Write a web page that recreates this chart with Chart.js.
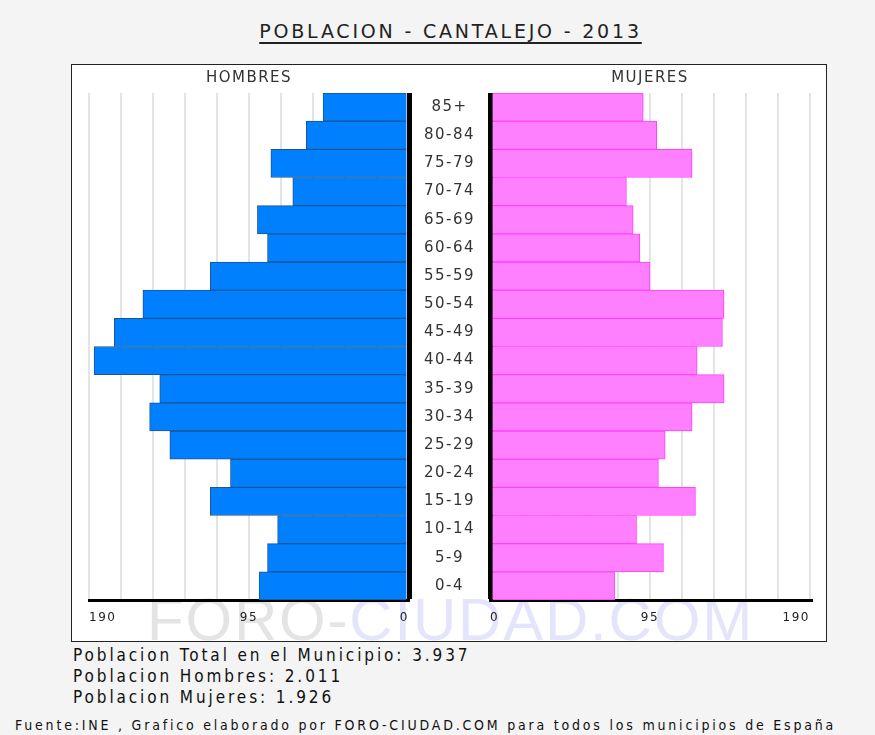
<!DOCTYPE html>
<html>
<head>
<meta charset="utf-8">
<script src="https://cdn.jsdelivr.net/npm/chart.js@4"></script>
<style>
  body { margin:0; background:#f4f4f4; width:875px; height:735px; position:relative; overflow:hidden; font-family:"DejaVu Sans", sans-serif; }
  .titulo { position:absolute; left:13px; width:875px; top:19px; text-align:center; font-size:19px; line-height:24px; letter-spacing:2.8px; color:#222; text-decoration:underline; text-decoration-thickness:2px; text-underline-offset:4px; }
  .caja { position:absolute; left:71px; top:64px; width:754px; height:576px; background:#fff; border:1px solid #222; }
  .marca { position:absolute; left:147px; top:590px; font-family:"Liberation Sans", sans-serif; font-size:60px; line-height:60px; letter-spacing:1.8px; white-space:nowrap; }
  .gris { color:#e4e4e4; }
  .lila { color:#e4e4fc; }
  #hombres { position:absolute; left:71px; top:64px; }
  #mujeres { position:absolute; left:409px; top:64px; }
  .datos { position:absolute; left:73px; top:645px; font-family:"DejaVu Sans Condensed", "DejaVu Sans", sans-serif; font-stretch:condensed; font-size:17px; line-height:21px; letter-spacing:2.9px; color:#111; white-space:nowrap; }
  .fuente { position:absolute; left:15px; top:716px; font-family:"DejaVu Sans Condensed", "DejaVu Sans", sans-serif; font-stretch:condensed; font-size:14px; line-height:18px; letter-spacing:2.8px; color:#111; white-space:nowrap; }
</style>
</head>
<body>
<div class="titulo">POBLACION - CANTALEJO - 2013</div>
<div class="caja"></div>
<div class="marca"><span class="gris">FORO-</span><span class="lila">CIUDAD.COM</span></div>
<canvas id="hombres" width="349" height="578"></canvas>
<canvas id="mujeres" width="418" height="578"></canvas>
<div class="datos">Poblacion Total en el Municipio: 3.937<br>Poblacion Hombres: 2.011<br>Poblacion Mujeres: 1.926</div>
<div class="fuente">Fuente:INE , Grafico elaborado por FORO-CIUDAD.COM para todos los municipios de España</div>

<script>
// datos (de 0-4 hasta 85+)
const edades = ['0-4', '5-9', '10-14', '15-19', '20-24', '25-29', '30-34', '35-39', '40-44',
  '45-49', '50-54', '55-59', '60-64', '65-69', '70-74', '75-79', '80-84', '85+']
const hombres = [89, 84, 78, 118, 106, 142, 154, 148, 187, 175, 158, 118, 84, 90, 69, 82, 61, 51]
const mujeres = [74, 103, 87, 122, 100, 104, 120, 139, 123, 138, 139, 95, 89, 85, 81, 120, 99, 91]
const maximo = 190
const paso = 19
const marcas = [0, 95, 190]

Chart.defaults.font.family = 'DejaVu Sans'
Chart.defaults.color = '#333'

// letras un poco separadas como en el original
const espaciado = {
  id: 'espaciado',
  beforeLayout(chart) { chart.ctx.letterSpacing = '1.5px' },
  beforeDraw(chart) { chart.ctx.letterSpacing = '1.5px' }
}

// el lado de hombres va hacia la izquierda: valores en negativo, etiquetas en positivo
function ejeX(min, max) {
  return {
    type: 'linear',
    min: min,
    max: max,
    afterFit(scale) { scale.height = 42 },
    border: { color: '#000', width: 3 },
    grid: {
      drawTicks: false,
      color: ctx => ctx.tick && ctx.tick.value === 0 ? '#000' : '#e4e4e4',
      lineWidth: ctx => ctx.tick && ctx.tick.value === 0 ? 5 : 2
    },
    ticks: {
      stepSize: paso,
      autoSkip: false,
      maxRotation: 0,
      align: 'inner',
      padding: 11,
      color: '#222',
      font: { size: 12 },
      callback: v => marcas.includes(Math.abs(v)) ? String(Math.abs(v)) : ''
    }
  }
}

function titulo(texto) {
  return {
    display: true,
    text: texto,
    fullSize: false,
    color: '#333',
    font: { size: 15, weight: 'normal' },
    padding: { top: 5, bottom: 6 }
  }
}

new Chart(document.getElementById('hombres'), {
  type: 'bar',
  data: {
    labels: edades,
    datasets: [{
      data: hombres.map(v => -v),
      backgroundColor: '#0080ff',
      borderColor: '#1b5592',
      borderWidth: 1,
      barPercentage: 1,
      categoryPercentage: 1
    }]
  },
  options: {
    indexAxis: 'y',
    responsive: false,
    animation: false,
    layout: { padding: { left: 18, right: 11 } },
    plugins: { legend: { display: false }, tooltip: { enabled: false }, title: titulo('HOMBRES') },
    scales: {
      x: ejeX(-maximo, 0),
      y: { type: 'category', reverse: true, display: false }
    }
  },
  plugins: [espaciado]
})

new Chart(document.getElementById('mujeres'), {
  type: 'bar',
  data: {
    labels: edades,
    datasets: [{
      data: mujeres,
      backgroundColor: '#ff80ff',
      borderColor: '#ff40ff',
      borderWidth: 1,
      barPercentage: 1,
      categoryPercentage: 1
    }]
  },
  options: {
    indexAxis: 'y',
    responsive: false,
    animation: false,
    layout: { padding: { right: 17 } },
    plugins: { legend: { display: false }, tooltip: { enabled: false }, title: titulo('MUJERES') },
    scales: {
      x: ejeX(0, maximo),
      y: {
        type: 'category',
        reverse: true,
        position: 'left',
        afterFit(scale) { scale.width = 81 },
        grid: { display: false, drawTicks: false },
        border: { display: false },
        ticks: { crossAlign: 'center', padding: 15, color: '#333', font: { size: 15 } }
      }
    }
  },
  plugins: [espaciado]
})
</script>
</body>
</html>
